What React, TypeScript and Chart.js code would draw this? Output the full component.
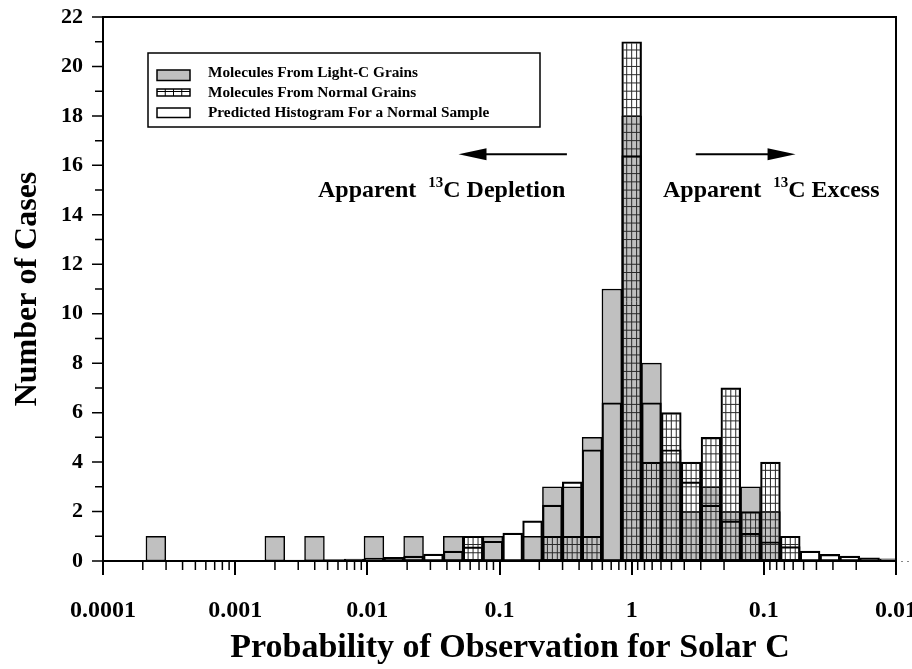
import React, { useEffect, useRef } from 'react';
import { Chart, registerables } from 'chart.js';

Chart.register(...registerables);

// Bin centres, in decades of probability. Negative values run from 0.0001 up to 1,
// positive values mirror the scale back down from 1 to 0.01. Bins are 0.15 decade wide.
const BIN_CENTERS = [
  -3.75, -3.6, -3.45, -3.3, -3.15, -3.0, -2.85, -2.7, -2.55, -2.4,
  -2.25, -2.1, -1.95, -1.8, -1.65, -1.5, -1.35, -1.2, -1.05, -0.9,
  -0.75, -0.6, -0.45, -0.3, -0.15, 0, 0.15, 0.3, 0.45, 0.6,
  0.75, 0.9, 1.05, 1.2, 1.35, 1.5, 1.65, 1.8, 1.95,
];

const LIGHT_C_COUNTS = [
  null, 1, null, null, null, null, null, 1, null, 1,
  null, null, 1, null, 1, null, 1, null, 1, null,
  1, 3, 3, 5, 11, 18, 8, 4, 2, 3,
  2, 3, 2, null, null, null, null, null, null,
];

const NORMAL_COUNTS = [
  null, null, null, null, null, null, null, null, null, null,
  null, null, null, null, null, null, null, 1, null, null,
  null, 1, 1, 1, null, 21, 4, 6, 4, 5,
  7, 2, 4, 1, null, null, null, null, null,
];

const PREDICTED_COUNTS = [
  0.02, 0.02, 0.02, 0.02, 0.03, 0.03, 0.03, 0.04, 0.04, 0.05,
  0.06, 0.08, 0.12, 0.15, 0.2, 0.28, 0.4, 0.57, 0.8, 1.13,
  1.62, 2.26, 3.2, 4.5, 6.4, 16.4, 6.4, 4.5, 3.2, 2.26,
  1.62, 1.12, 0.78, 0.58, 0.4, 0.27, 0.2, 0.13, 0.09,
];

const SERIES_LABELS = [
  'Molecules From Light-C Grains',
  'Molecules From Normal Grains',
  'Predicted Histogram For a Normal Sample',
];

const MAJOR_DECADES = [-4, -3, -2, -1, 0, 1, 2];
const Y_MAX = 22;
const X_TITLE = 'Probability of Observation for Solar C';
const Y_TITLE = 'Number of Cases';

const FONT = "'Liberation Serif', 'Times New Roman', serif";
const GRAY = '#c0c0c0';
const BAR_BORDER = 1.5;

const decadeLabel = (v: number) => {
  const d = Math.abs(Math.round(v));
  return Math.pow(10, -d).toFixed(d);
};

// Axis frame and the major / minor tick marks of both axes.
const framePlugin = {
  id: 'frame',
  afterDatasetsDraw(chart: any) {
    const { ctx, chartArea: a, scales } = chart;
    const x = scales.x;
    const y = scales.y;
    ctx.save();
    ctx.strokeStyle = '#000';
    ctx.lineWidth = 2;
    ctx.strokeRect(a.left, a.top, a.right - a.left, a.bottom - a.top);

    ctx.lineWidth = 2;
    ctx.beginPath();
    for (const d of MAJOR_DECADES) {
      const px = Math.round(x.getPixelForValue(d));
      ctx.moveTo(px, a.bottom);
      ctx.lineTo(px, a.bottom + 14);
    }
    ctx.stroke();

    ctx.lineWidth = 1.5;
    ctx.beginPath();
    for (let d = -4; d < 2; d++) {
      for (let m = 2; m <= 9; m++) {
        const v = d < 0 ? d + Math.log10(m) : d + 1 - Math.log10(m);
        const px = x.getPixelForValue(v);
        ctx.moveTo(px, a.bottom);
        ctx.lineTo(px, a.bottom + 9);
      }
    }
    for (let v = 0; v <= Y_MAX; v++) {
      const py = y.getPixelForValue(v);
      const len = v % 2 === 0 ? 11 : 8;
      ctx.moveTo(a.left, py);
      ctx.lineTo(a.left - len, py);
    }
    ctx.stroke();

    ctx.strokeStyle = '#888';
    ctx.lineWidth = 1;
    ctx.setLineDash([2, 4]);
    ctx.beginPath();
    ctx.moveTo(a.right + 5, a.bottom + 0.5);
    ctx.lineTo(chart.width, a.bottom + 0.5);
    ctx.stroke();
    ctx.restore();
  },
};

// Cross-hatching inside the bars of the normal-grain series.
const hatchPlugin = {
  id: 'hatch',
  afterDatasetDraw(chart: any, args: any) {
    const ds = chart.data.datasets[args.index];
    if (ds.label !== SERIES_LABELS[1]) return;
    const { ctx, chartArea: a } = chart;
    const yScale = chart.scales.y;
    ctx.save();
    ctx.beginPath();
    ctx.rect(a.left, a.top, a.right - a.left, a.bottom - a.top);
    ctx.clip();
    args.meta.data.forEach((el: any, i: number) => {
      const v = NORMAL_COUNTS[i];
      if (v == null) return;
      const { x, y, base, width } = el.getProps(['x', 'y', 'base', 'width'], true);
      const left = x - width / 2;
      const right = x + width / 2;
      const top = Math.min(y, base);
      const bottom = Math.max(y, base);
      ctx.save();
      ctx.beginPath();
      ctx.rect(left + BAR_BORDER, top + BAR_BORDER, right - left - 2 * BAR_BORDER, bottom - top - 2 * BAR_BORDER);
      ctx.clip();
      ctx.strokeStyle = '#2a2a2a';
      ctx.lineWidth = 1;
      ctx.beginPath();
      for (let c = 1; c < 4; c++) {
        const xx = left + ((right - left) * c) / 4;
        ctx.moveTo(xx, top);
        ctx.lineTo(xx, bottom);
      }
      for (let r = 1; r < v * 3; r++) {
        const yy = yScale.getPixelForValue(r / 3);
        ctx.moveTo(left, yy);
        ctx.lineTo(right, yy);
      }
      ctx.stroke();
      ctx.restore();
    });
    ctx.restore();
  },
};

// Boxed legend inside the plot, the two direction arrows with their captions,
// and the x-axis title.
const notesPlugin = {
  id: 'notes',
  afterDraw(chart: any) {
    const { ctx, chartArea: a, scales } = chart;
    const x = scales.x;
    const y = scales.y;
    ctx.save();

    const lx = a.left + 45;
    const ly = a.top + 36;
    ctx.fillStyle = '#fff';
    ctx.fillRect(lx, ly, 392, 74);
    ctx.strokeStyle = '#000';
    ctx.lineWidth = 1.5;
    ctx.strokeRect(lx, ly, 392, 74);

    const sx = lx + 9;
    const sw = 33;
    // light-C swatch
    ctx.fillStyle = GRAY;
    ctx.fillRect(sx, ly + 17, sw, 10.5);
    ctx.lineWidth = 1.5;
    ctx.strokeRect(sx, ly + 17, sw, 10.5);
    // normal-grain swatch
    ctx.strokeRect(sx, ly + 36, sw, 7);
    ctx.lineWidth = 1;
    ctx.beginPath();
    for (let c = 1; c < 4; c++) {
      ctx.moveTo(sx + (sw * c) / 4, ly + 36);
      ctx.lineTo(sx + (sw * c) / 4, ly + 43);
    }
    ctx.moveTo(sx, ly + 38.5);
    ctx.lineTo(sx + sw, ly + 38.5);
    ctx.stroke();
    // predicted swatch
    ctx.lineWidth = 1.5;
    ctx.strokeRect(sx, ly + 55, sw, 9.5);

    ctx.fillStyle = '#000';
    ctx.font = `bold 15.3px ${FONT}`;
    ctx.textBaseline = 'alphabetic';
    ctx.textAlign = 'left';
    SERIES_LABELS.forEach((t, i) => ctx.fillText(t, lx + 60, ly + 24 + i * 19.8));

    // arrows
    const arrowY = y.getPixelForValue(16.45);
    const arrow = (from: number, to: number) => {
      const x0 = x.getPixelForValue(from);
      const x1 = x.getPixelForValue(to);
      const dir = Math.sign(x1 - x0);
      ctx.lineWidth = 2;
      ctx.beginPath();
      ctx.moveTo(x0, arrowY);
      ctx.lineTo(x1 - dir * 20, arrowY);
      ctx.stroke();
      ctx.beginPath();
      ctx.moveTo(x1, arrowY);
      ctx.lineTo(x1 - dir * 28, arrowY - 6);
      ctx.lineTo(x1 - dir * 28, arrowY + 6);
      ctx.closePath();
      ctx.fill();
    };
    arrow(-0.49, -1.31);
    arrow(0.485, 1.24);

    const textY = y.getPixelForValue(14.72);
    const caption = (start: number, tail: string) => {
      let cx = x.getPixelForValue(start);
      ctx.font = `bold 24px ${FONT}`;
      ctx.fillText('Apparent  ', cx, textY);
      cx += ctx.measureText('Apparent  ').width;
      ctx.font = `bold 15px ${FONT}`;
      ctx.fillText('13', cx, textY - 10);
      cx += ctx.measureText('13').width;
      ctx.font = `bold 24px ${FONT}`;
      ctx.fillText(tail, cx, textY);
    };
    caption(-2.373, 'C Depletion');
    caption(0.237, 'C Excess');

    // x-axis title
    ctx.font = `bold 34px ${FONT}`;
    ctx.textAlign = 'center';
    ctx.textBaseline = 'alphabetic';
    ctx.fillText(X_TITLE, a.left + 407, chart.height - 12);
    ctx.restore();
  },
};

export default function App() {
  const canvasRef = useRef<HTMLCanvasElement | null>(null);

  useEffect(() => {
    const canvas = canvasRef.current;
    if (!canvas) return;
    const toPoints = (vals: (number | null)[]) => BIN_CENTERS.map((c, i) => ({ x: c, y: vals[i] }));
    const common = {
      borderColor: '#000',
      borderWidth: BAR_BORDER,
      borderSkipped: false as const,
      grouped: false,
      categoryPercentage: 1,
      barPercentage: 1,
    };
    const chart = new Chart(canvas, {
      type: 'bar',
      data: {
        datasets: [
          { ...common, label: SERIES_LABELS[0], data: toPoints(LIGHT_C_COUNTS), backgroundColor: GRAY, order: 3 },
          { ...common, label: SERIES_LABELS[1], data: toPoints(NORMAL_COUNTS), backgroundColor: 'rgba(0,0,0,0)', order: 2 },
          { ...common, label: SERIES_LABELS[2], data: toPoints(PREDICTED_COUNTS), backgroundColor: 'rgba(0,0,0,0)', order: 1 },
        ] as any,
      },
      options: {
        responsive: false,
        animation: false,
        events: [],
        layout: { padding: { left: 0, right: 16, top: 17, bottom: 0 } },
        plugins: { legend: { display: false }, tooltip: { enabled: false } },
        scales: {
          x: {
            type: 'linear',
            min: -4,
            max: 2,
            offset: false,
            grid: { display: false },
            border: { display: false },
            afterBuildTicks: (s: any) => {
              s.ticks = MAJOR_DECADES.map((v) => ({ value: v }));
            },
            afterFit: (s: any) => {
              s.height = 108;
              s.paddingLeft = 0;
              s.paddingRight = 0;
            },
            ticks: {
              color: '#000',
              padding: 27,
              maxRotation: 0,
              autoSkip: false,
              font: { family: FONT, weight: 'bold', size: 24 },
              callback: (v: any) => decadeLabel(Number(v)),
            },
          },
          y: {
            min: 0,
            max: Y_MAX,
            grid: { display: false },
            border: { display: false },
            afterFit: (s: any) => {
              s.width = 103;
              s.paddingTop = 0;
              s.paddingBottom = 0;
            },
            ticks: {
              stepSize: 2,
              color: '#000',
              padding: 12,
              font: { family: FONT, weight: 'bold', size: 22 },
            },
            title: {
              display: true,
              text: Y_TITLE,
              color: '#000',
              font: { family: FONT, weight: 'bold', size: 32 },
              padding: { top: 9, bottom: 0 },
            },
          },
        },
      } as any,
      plugins: [hatchPlugin, framePlugin, notesPlugin],
    });
    return () => chart.destroy();
  }, []);

  return (
    <div style={{ position: 'fixed', left: 0, top: 0, width: 912, height: 669, background: '#fff' }}>
      <canvas ref={canvasRef} width={912} height={669} />
    </div>
  );
}
